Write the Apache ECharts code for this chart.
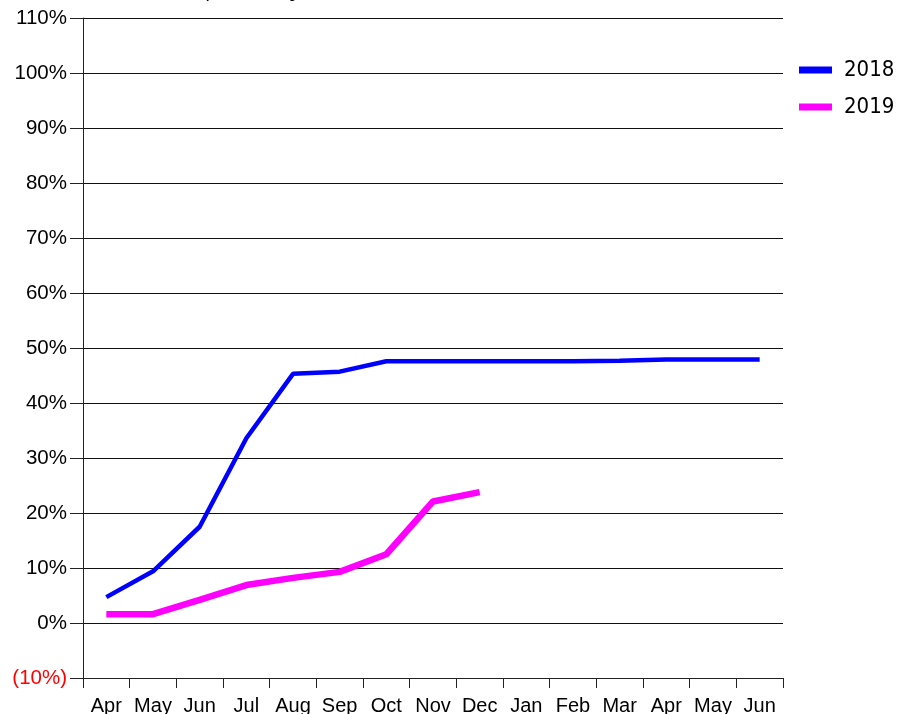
<!DOCTYPE html>
<html>
<head>
<meta charset="utf-8">
<script src="https://cdn.jsdelivr.net/npm/echarts@6/dist/echarts.min.js"></script>
<style>html,body{margin:0;padding:0;background:#fff}#c{width:899px;height:714px}</style>
</head>
<body>
<div id="c"></div>
<script>
var months = ['Apr','May','Jun','Jul','Aug','Sep','Oct','Nov','Dec','Jan','Feb','Mar','Apr','May','Jun'];
var series2018 = [4.7, 9.4, 17.5, 33.6, 45.3, 45.7, 47.6, 47.6, 47.6, 47.6, 47.6, 47.7, 47.9, 47.9, 47.9];
var series2019 = [1.6, 1.6, 4.2, 6.9, 8.2, 9.3, 12.5, 22.1, 23.8];
var yTicks = {min: -10, max: 110, interval: 10};
var titleText = 'Spend Percentage';

var chart = echarts.init(document.getElementById('c'), null, {renderer: 'canvas'});
var font = 'Liberation Sans, Arial, sans-serif';
chart.setOption({
  animation: false,
  backgroundColor: '#fff',
  title: {
    text: titleText, left: 193, top: -16,
    textStyle: {fontFamily: font, fontSize: 12, fontWeight: 'bold', color: '#000'}
  },
  grid: {left: 83, right: 116, top: 18, bottom: 36, containLabel: false, outerBoundsMode: 'none'},
  legend: {
    orient: 'vertical', left: 799, top: 59, padding: 0,
    itemWidth: 33, itemHeight: 7, itemGap: 15,
    icon: 'rect',
    textStyle: {fontFamily: 'DejaVu Sans Condensed, Noto Sans, sans-serif', fontSize: 22, color: '#000', padding: [0, 0, 0, 7]},
    data: ['2018', '2019']
  },
  xAxis: {
    type: 'category', data: months, boundaryGap: true,
    axisLine: {onZero: false, lineStyle: {color: '#222', width: 1}},
    axisTick: {show: true, length: 10, interval: 0, lineStyle: {color: '#222'}},
    axisLabel: {interval: 0, fontFamily: font, fontSize: 20, margin: 18, color: '#000'},
    splitLine: {show: false}
  },
  yAxis: {
    type: 'value', min: yTicks.min, max: yTicks.max, interval: yTicks.interval,
    axisLine: {show: true, lineStyle: {color: '#222', width: 1}},
    axisTick: {show: true, length: 13, lineStyle: {color: '#222'}},
    axisLabel: {
      fontFamily: font, fontSize: 20.5, margin: 16,
      color: function (v) { return Number(v) < 0 ? '#ff0000' : '#000'; },
      formatter: function (v) { return v < 0 ? '(' + Math.abs(v) + '%)' : v + '%'; }
    },
    splitLine: {show: true, lineStyle: {color: '#111', width: 1}}
  },
  series: [
    {name: '2018', type: 'line', data: series2018, showSymbol: false, symbol: 'none',
     lineStyle: {color: '#0000ff', width: 4.5}, itemStyle: {color: '#0000ff'}},
    {name: '2019', type: 'line', data: series2019, showSymbol: false, symbol: 'none',
     lineStyle: {color: '#ff00ff', width: 6.5}, itemStyle: {color: '#ff00ff'}}
  ]
});
</script>
</body>
</html>
